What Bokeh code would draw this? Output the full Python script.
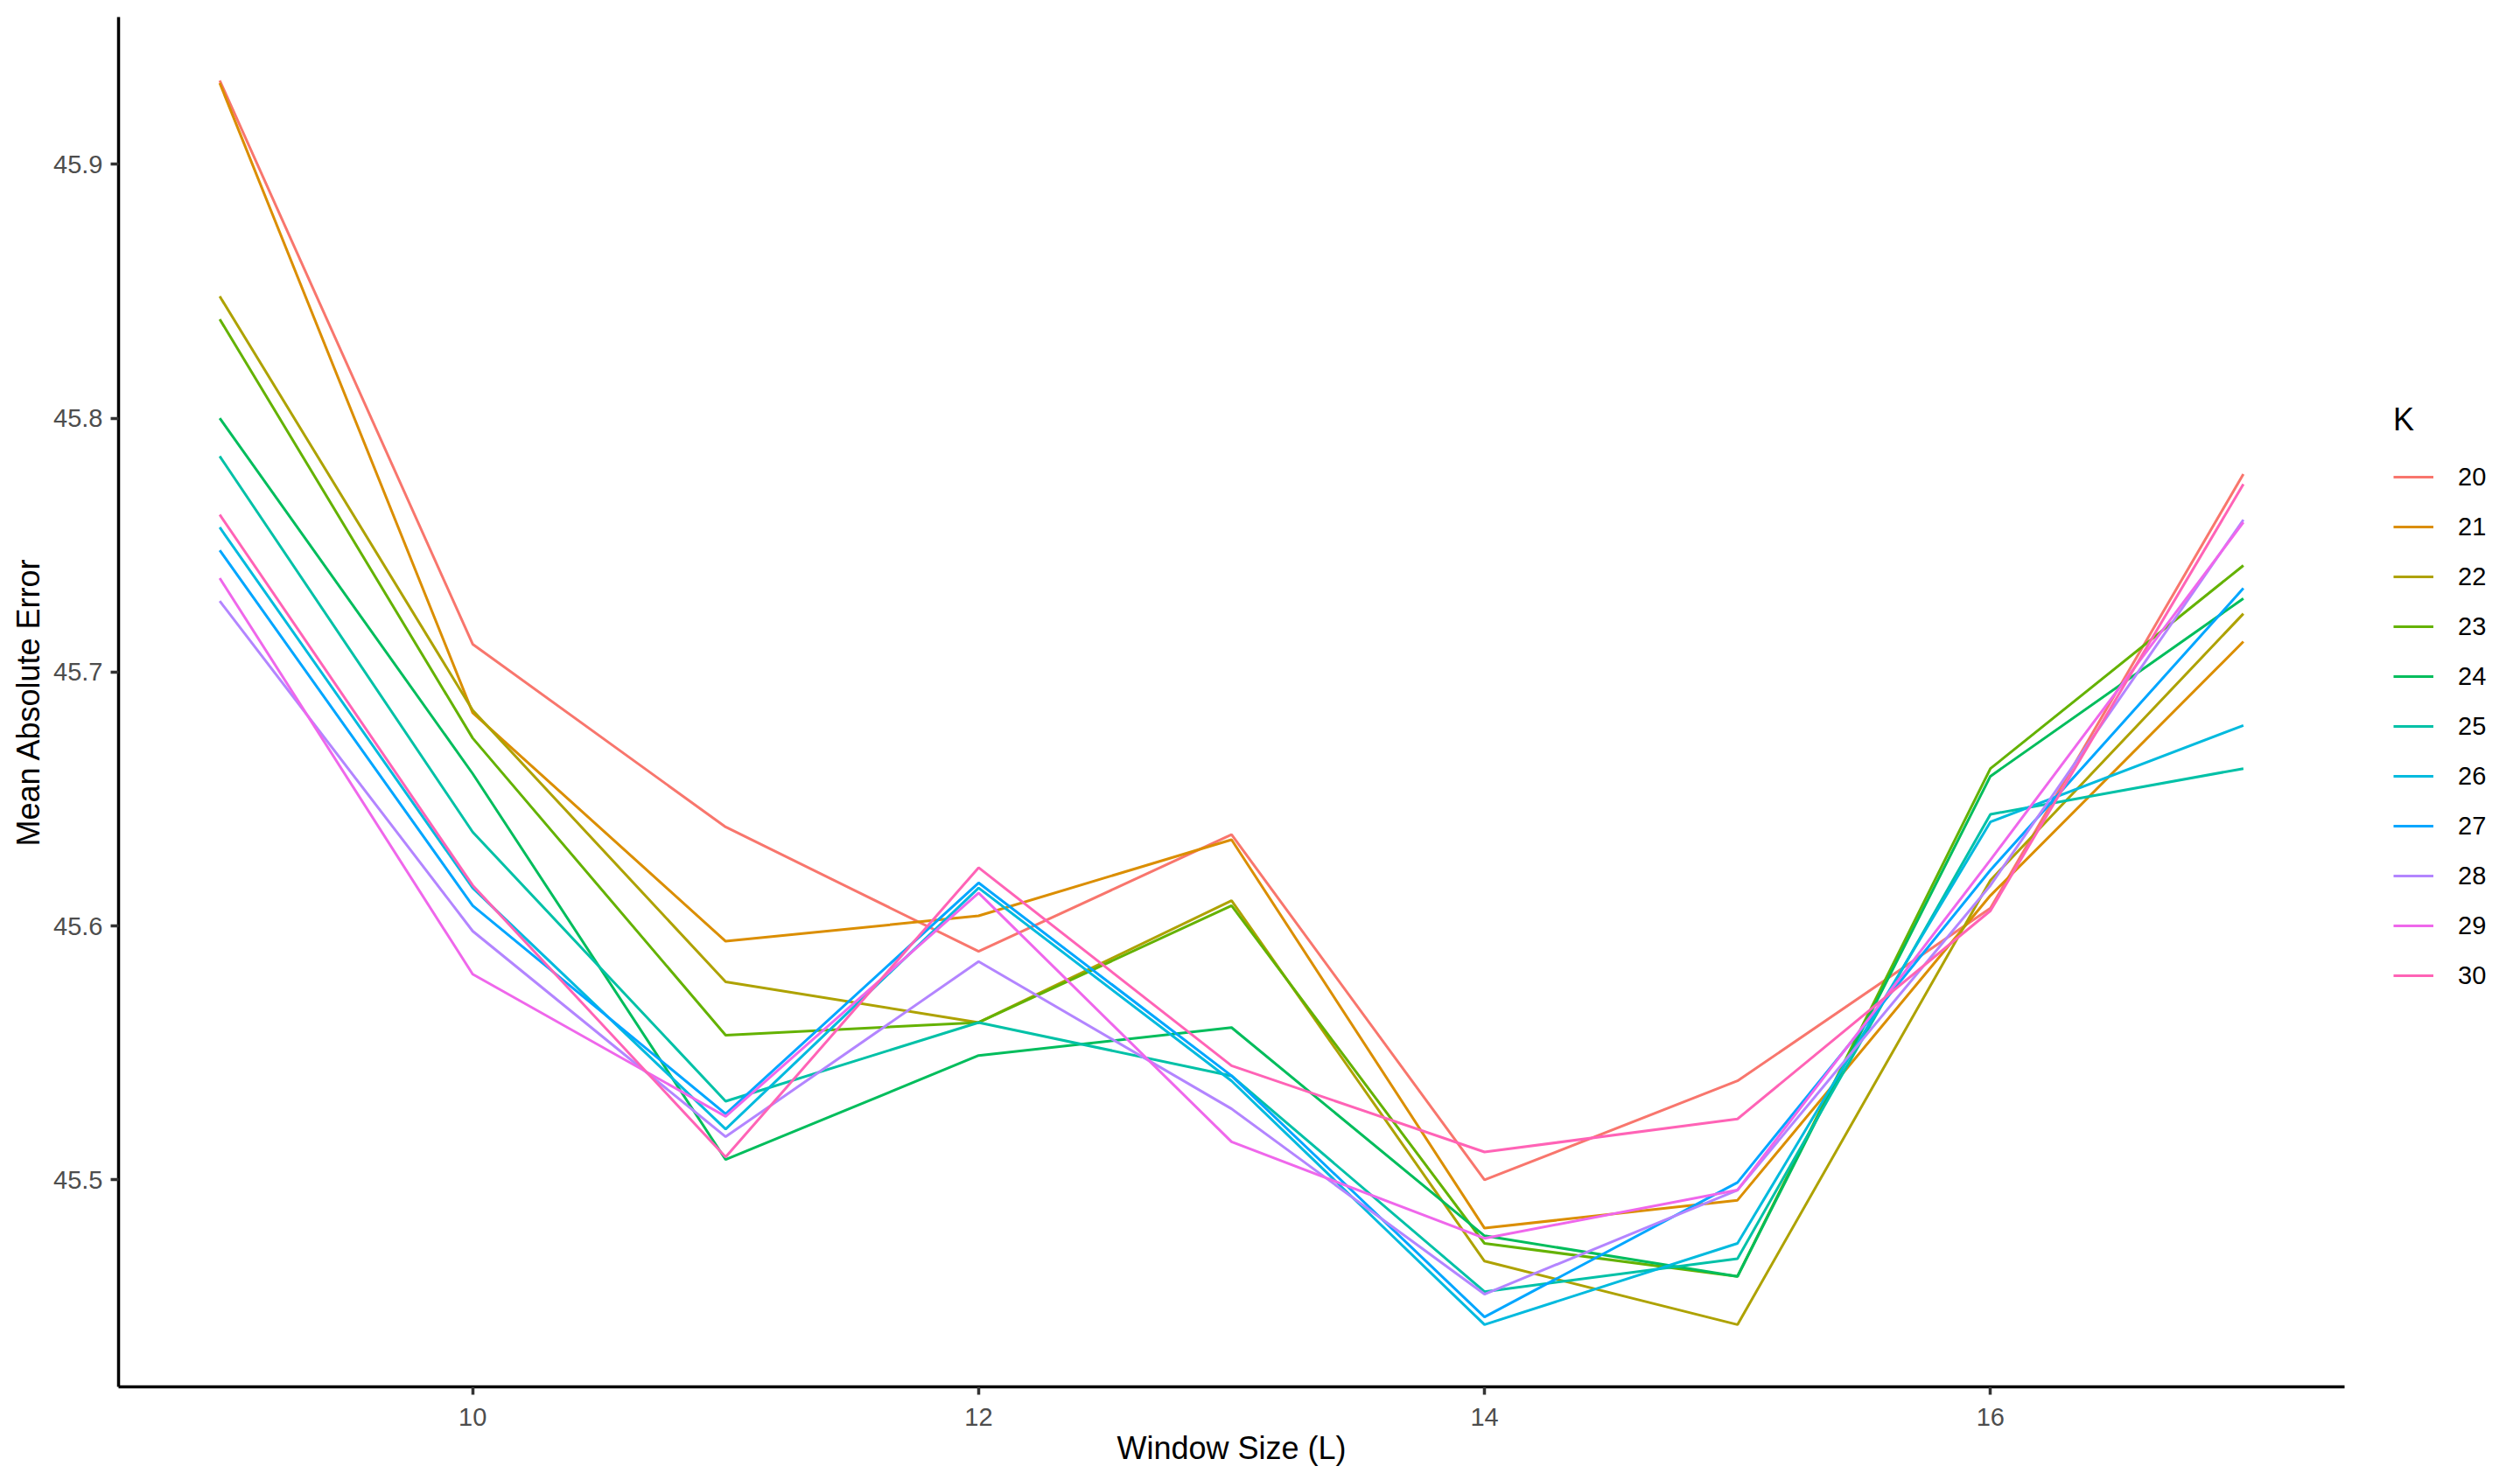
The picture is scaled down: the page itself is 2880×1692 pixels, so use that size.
from bokeh.plotting import figure
from bokeh.models import Legend, LegendItem, FixedTicker, PrintfTickFormatter, Range1d
from bokeh.embed import file_html
from bokeh.resources import INLINE

window_sizes = [9, 10, 11, 12, 13, 14, 15, 16, 17]
k_labels = ["20", "21", "22", "23", "24", "25", "26", "27", "28", "29", "30"]

mae_k20 = [45.933, 45.711, 45.639, 45.590, 45.636, 45.500, 45.539, 45.607, 45.778]
mae_k21 = [45.932, 45.684, 45.594, 45.604, 45.634, 45.481, 45.492, 45.612, 45.712]
mae_k22 = [45.848, 45.685, 45.578, 45.562, 45.610, 45.468, 45.443, 45.618, 45.723]
mae_k23 = [45.839, 45.674, 45.557, 45.562, 45.608, 45.475, 45.462, 45.662, 45.742]
mae_k24 = [45.800, 45.660, 45.508, 45.549, 45.560, 45.478, 45.462, 45.659, 45.729]
mae_k25 = [45.785, 45.637, 45.531, 45.562, 45.541, 45.456, 45.469, 45.644, 45.662]
mae_k26 = [45.757, 45.615, 45.520, 45.615, 45.539, 45.443, 45.475, 45.641, 45.679]
mae_k27 = [45.748, 45.608, 45.526, 45.617, 45.541, 45.446, 45.499, 45.622, 45.733]
mae_k28 = [45.728, 45.598, 45.517, 45.586, 45.528, 45.455, 45.496, 45.616, 45.760]
mae_k29 = [45.737, 45.581, 45.525, 45.613, 45.515, 45.477, 45.496, 45.626, 45.759]
mae_k30 = [45.762, 45.616, 45.509, 45.623, 45.545, 45.511, 45.524, 45.606, 45.774]

series = [mae_k20, mae_k21, mae_k22, mae_k23, mae_k24, mae_k25,
          mae_k26, mae_k27, mae_k28, mae_k29, mae_k30]
colors = ["#F8766D", "#DB8E00", "#AEA200", "#64B200", "#00BD5C", "#00C1A7",
          "#00BADE", "#00A6FF", "#B385FF", "#EF67EB", "#FF63B6"]

x_ticks = [10, 12, 14, 16]
y_ticks = [45.5, 45.6, 45.7, 45.8, 45.9]

FONT = "Liberation Sans"

p = figure(frame_width=2544, frame_height=1566,
           min_border_left=135, min_border_right=185,
           min_border_top=19, min_border_bottom=91,
           x_range=Range1d(8.6, 17.4), y_range=Range1d(45.4185, 45.958),
           output_backend="svg", toolbar_location=None)

p.outline_line_color = None
p.xgrid.visible = False
p.ygrid.visible = False
p.background_fill_color = "white"
p.border_fill_color = "white"

items = []
for lab, ys, c in zip(k_labels, series, colors):
    r = p.line(window_sizes, ys, line_color=c, line_width=3.0)
    items.append(LegendItem(label=lab, renderers=[r]))

for ax in (p.xaxis[0], p.yaxis[0]):
    ax.axis_line_color = "black"
    ax.axis_line_width = 3.5
    ax.major_tick_line_color = "#333333"
    ax.major_tick_line_width = 3.5
    ax.major_tick_out = 9
    ax.major_tick_in = 0
    ax.minor_tick_line_color = None
    ax.major_label_text_font = FONT
    ax.major_label_text_font_size = "29px"
    ax.major_label_text_color = "#4D4D4D"
    ax.axis_label_text_font = FONT
    ax.axis_label_text_font_size = "36px"
    ax.axis_label_text_font_style = "normal"
    ax.axis_label_text_color = "black"

p.xaxis.ticker = FixedTicker(ticks=x_ticks)
p.yaxis.ticker = FixedTicker(ticks=y_ticks)
p.xaxis.formatter = PrintfTickFormatter(format="%d")
p.yaxis.formatter = PrintfTickFormatter(format="%.1f")
p.xaxis.major_label_standoff = 15
p.yaxis.major_label_standoff = 9
p.xaxis.axis_label = "Window Size (L)"
p.yaxis.axis_label = "Mean Absolute Error"
p.xaxis.axis_label_standoff = 2
p.yaxis.axis_label_standoff = 5

legend = Legend(items=items, location=(56, 450),
                title="K", title_text_font=FONT, title_text_font_size="36px",
                title_text_font_style="normal", title_text_color="black",
                title_standoff=24,
                label_text_font=FONT, label_text_font_size="29px",
                label_text_color="black",
                glyph_width=46, glyph_height=40, label_height=40,
                label_standoff=28, spacing=17, padding=5, margin=0,
                background_fill_alpha=0, border_line_color=None)
p.add_layout(legend, "right")

open("out.html", "w").write(file_html(p, INLINE))
